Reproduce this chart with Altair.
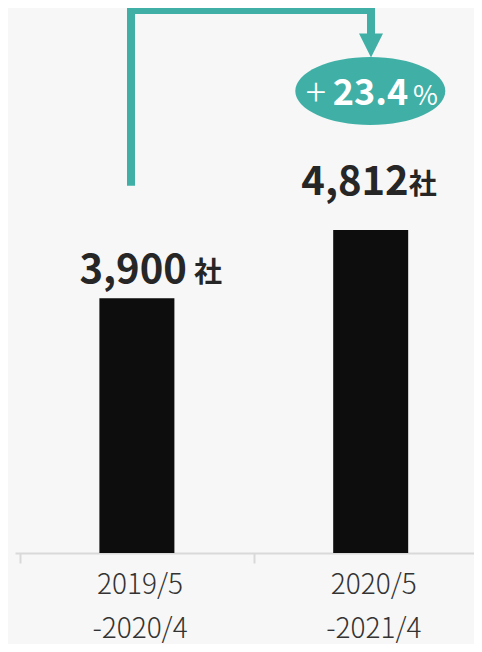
import altair as alt
import pandas as pd

# ---- data ----
period_start = ["2019/5", "2020/5"]
period_end = ["-2020/4", "-2021/4"]
companies = [3900, 4812]
unit_label = ["社", "社"]
growth_text = ["+", "23.4", "%"]

df = pd.DataFrame({
    "idx": list(range(len(companies))),
    "start": period_start,
    "end": period_end,
    "value": companies,
    "unit": unit_label,
})

PAD_L, PAD_B = 7, 91
W, H = 459, 545
STEP = 239
Y_MIN, Y_MAX = 499, 7776
TEAL = "#40b0a6"
FONT = "Noto Sans CJK JP"
AXIS_GRAY = "#d9d9d9"

x_scale = alt.Scale(domain=[-0.5, -0.5 + W / STEP], nice=False, zero=False)
y_scale = alt.Scale(domain=[Y_MIN, Y_MAX], nice=False, zero=False)

label_expr = (
    f"datum.value < 0 ? ['{period_start[0]}','{period_end[0]}'] : "
    f"(datum.value < 1 ? ['{period_start[1]}','{period_end[1]}'] : '')"
)

x_axis = alt.Axis(
    values=[-0.5, 0.5, 1.5],
    labelExpr=label_expr,
    labelOffset=STEP / 2,
    labelFlush=False,
    labelOverlap=False,
    labelBound=False,
    domainColor=AXIS_GRAY,
    domainWidth=2,
    tickColor=AXIS_GRAY,
    tickWidth=2,
    tickSize=10,
    labelFont=FONT,
    labelFontSize=28,
    labelFontWeight=300,
    labelColor="#333333",
    labelLineHeight=44,
    labelPadding=8,
    labelBaseline="top",
    title=None,
    grid=False,
)

base = alt.Chart(df)

bars = base.mark_bar(size=75, color="#0d0d0d").encode(
    x=alt.X("idx:Q", scale=x_scale, axis=x_axis),
    y=alt.Y("value:Q", scale=y_scale, axis=None),
    y2=alt.datum(Y_MIN),
)

# per-bar label placement (style only)
label_style = [
    dict(num_dx=50, unit_dx=57, num_dy=-15, unit_dy=-16),
    dict(num_dx=38, unit_dx=38, num_dy=-35, unit_dy=-36),
]

label_layers = []
for i, st in enumerate(label_style):
    sub = base.transform_filter(alt.datum.idx == i)
    num = sub.mark_text(
        font=FONT, fontSize=40, fontWeight="bold", color="#262626",
        align="right", baseline="alphabetic", dx=st["num_dx"], dy=st["num_dy"],
    ).encode(
        x=alt.X("idx:Q", scale=x_scale),
        y=alt.Y("value:Q", scale=y_scale),
        text=alt.Text("value:Q", format=","),
    )
    unit = sub.mark_text(
        font=FONT, fontSize=28, fontWeight="bold", color="#262626",
        align="left", baseline="alphabetic", dx=st["unit_dx"], dy=st["unit_dy"],
    ).encode(
        x=alt.X("idx:Q", scale=x_scale),
        y=alt.Y("value:Q", scale=y_scale),
        text="unit:N",
    )
    label_layers += [num, unit]

# ---- annotation: connector arrow and growth badge (plot-area pixels) ----
OX = 17 - 8 - PAD_L  # shift so annotations keep their page position

one = alt.Chart(pd.DataFrame({"a": [1]}))

def rule(x1, y1, x2, y2):
    return one.mark_rule(color=TEAL, strokeWidth=8, strokeCap="butt").encode(
        x=alt.value(x1 + OX), y=alt.value(y1), x2=alt.value(x2 + OX), y2=alt.value(y2)
    )

left_up = rule(114, 177.7, 114, -2)
across = rule(110, 2, 358, 2)
right_down = rule(354, -2, 354, 27)

arrow_head = one.mark_point(
    shape="M-1,-1L1,-1L0,1Z", size=576, filled=True, color=TEAL, opacity=1, strokeWidth=0
).encode(x=alt.value(354 + OX), y=alt.value(37.5))

ellipse = one.mark_point(
    shape="M-1,0A1,0.4533,0,1,0,1,0A1,0.4533,0,1,0,-1,0Z",
    size=150 * 150, filled=True, color=TEAL, opacity=1, strokeWidth=0,
).encode(x=alt.value(353.3 + OX), y=alt.value(83))

plus = one.mark_text(
    text=growth_text[0], font=FONT, fontSize=38, fontWeight=300, color="white",
    align="right", baseline="alphabetic",
).encode(x=alt.value(309 + OX), y=alt.value(98))
num_growth = one.mark_text(
    text=growth_text[1], font=FONT, fontSize=36, fontWeight="bold", color="white",
    align="center", baseline="alphabetic",
).encode(x=alt.value(353.5 + OX), y=alt.value(97))
pct = one.mark_text(
    text=growth_text[2], font=FONT, fontSize=27, fontWeight="normal", color="white",
    align="left", baseline="alphabetic",
).encode(x=alt.value(396 + OX), y=alt.value(97))

chart = alt.layer(
    bars, *label_layers, left_up, across, right_down, arrow_head, ellipse, plus, num_growth, pct
).properties(
    width=W,
    height=H,
    autosize=alt.AutoSizeParams(type="none"),
    padding={"left": PAD_L, "top": 0, "right": 0, "bottom": PAD_B},
    background="#f7f7f7",
).configure_view(stroke=None)

chart.save("out.html", embed_options={"renderer": "svg", "actions": False})
